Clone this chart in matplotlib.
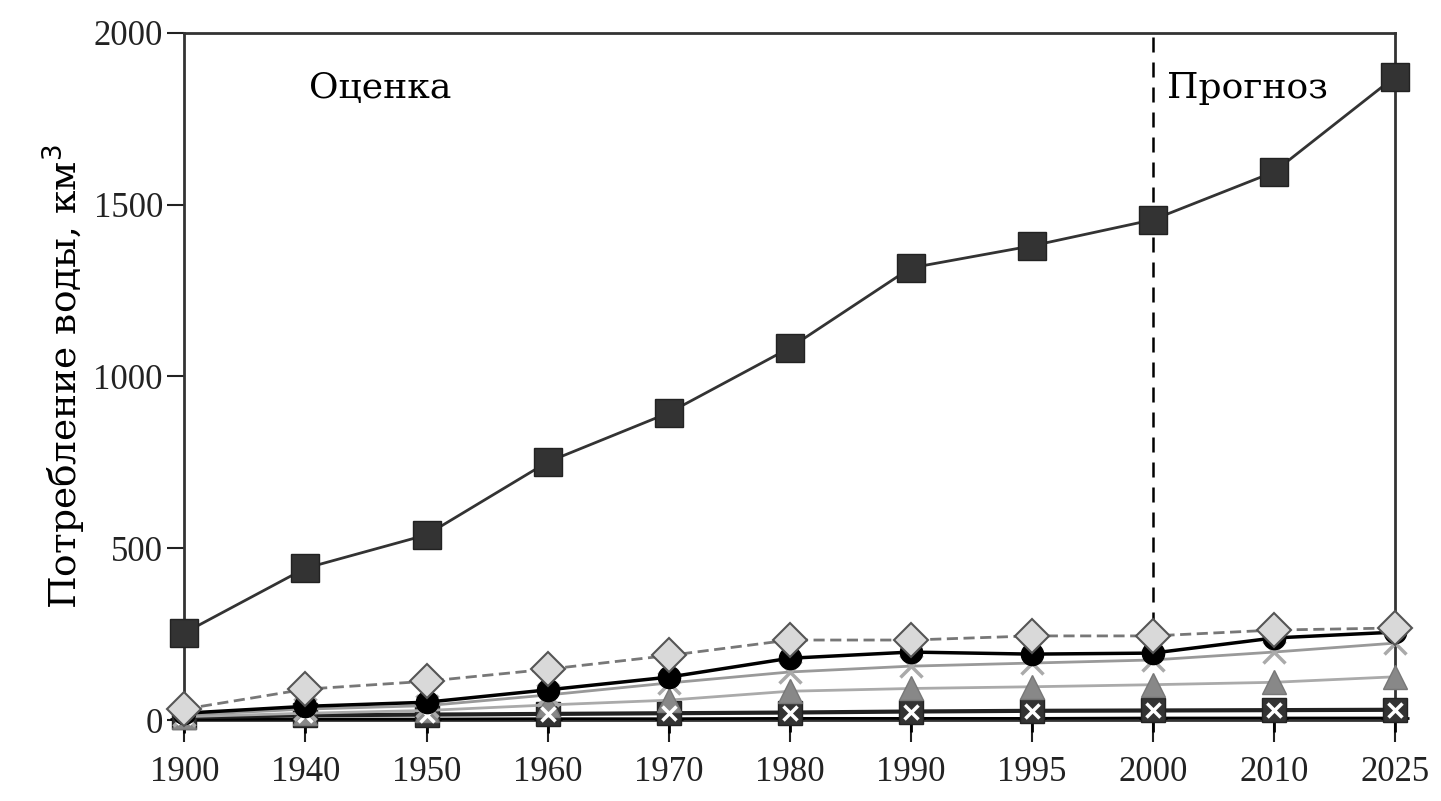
import matplotlib.pyplot as plt

# Data
years = ["1900", "1940", "1950", "1960", "1970", "1980", "1990", "1995", "2000", "2010", "2025"]
total = [254, 442, 539, 751, 894, 1083, 1316, 1380, 1456, 1595, 1872]
diamonds = [32, 90, 113, 148, 188, 233, 233, 245, 245, 262, 268]
circles = [20, 40, 52, 88, 125, 180, 198, 192, 195, 239, 256]
stars = [15, 32, 42, 73, 108, 140, 157, 166, 175, 198, 224]
triangles = [10, 20, 28, 44, 58, 84, 92, 97, 103, 110, 126]
sq_x = [8, 14, 16, 18, 20, 22, 25, 27, 28, 29, 30]
plus = [2, 3, 3, 4, 4, 5, 5, 5, 6, 6, 6]

plt.rcParams['font.family'] = ['Liberation Serif', 'DejaVu Serif']
wide = ['DejaVu Serif']

fig = plt.figure(figsize=(14.41, 8.01), dpi=100)
ax = fig.add_axes([0.128, 0.101, 0.84, 0.858])
x = list(range(len(years)))

ax.plot(x, plus, color='black', lw=2, marker='+', ms=20, mew=2, clip_on=False, zorder=3)
ax.plot(x, sq_x, color='#222222', lw=3, marker='s', ms=17, mfc='#333333', mec='#222222',
        clip_on=False, zorder=4)
ax.plot(x, sq_x, ls='none', marker='x', ms=10, mew=2.5, color='white', clip_on=False, zorder=5)
ax.plot(x, triangles, color='#aaaaaa', lw=2, marker='^', ms=17, mfc='#888888', mec='#777777',
        clip_on=False, zorder=4)
ax.plot(x, stars, color='#999999', lw=2, marker='x', ms=16, mew=2.5, mec='#aaaaaa',
        clip_on=False, zorder=4)
ax.plot(x, circles, color='black', lw=2.5, marker='o', ms=16, mfc='black', mec='black',
        clip_on=False, zorder=5)
ax.plot(x, diamonds, color='#777777', lw=2, ls=(0, (4, 2)), marker='D', ms=17, mfc='#d9d9d9',
        mec='#555555', mew=1.5, clip_on=False, zorder=6)
ax.plot(x, total, color='#333333', lw=2, marker='s', ms=20, mfc='#333333', mec='#222222',
        clip_on=False, zorder=7)

# boundary between estimate and forecast
ax.vlines(8, 270, 2000, colors='black', linestyles=(0, (6, 4)), lw=1.8, zorder=2)
ax.text(1.03, 1840, "Оценка", fontsize=26, va='center', ha='left', family=wide)
ax.text(8.12, 1840, "Прогноз", fontsize=26, va='center', ha='left', family=wide)

ax.set_xlim(0, len(years) - 1)
ax.set_ylim(0, 2000)
ax.set_xticks(x)
ax.set_xticklabels(years)
ax.set_yticks([0, 500, 1000, 1500, 2000])
ax.tick_params(axis='both', labelsize=25, direction='out', width=1.5, colors='#222222')
ax.tick_params(axis='y', length=12)
ax.tick_params(axis='x', length=16, pad=10)
ax.set_ylabel("Потребление воды, км$^3$", fontsize=27, labelpad=4, family=wide)
for s in ax.spines.values():
    s.set_linewidth(2)
    s.set_color('#333333')

fig.savefig("out.png", dpi=100)
